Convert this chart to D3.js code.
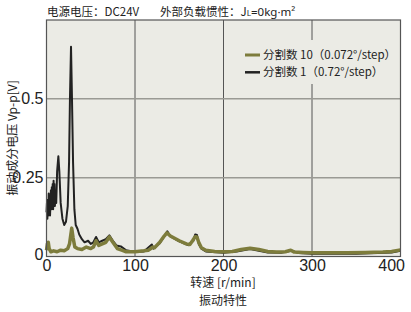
<!DOCTYPE html>
<html lang="zh">
<head>
<meta charset="UTF-8">
<script src="https://cdn.jsdelivr.net/npm/d3@7"></script>
<style>
  body { margin: 0; background: #fff; }
  text { font-family: "Noto Sans CJK SC", sans-serif; }
  .tick text { font-family: "Liberation Sans Narrow", "Liberation Sans", sans-serif; }
</style>
</head>
<body>
<script>
// 转速 [r/min] / 振动成分电压 [V]
var rpmFine = [0,0.5,1,1.5,2,2.5,3,3.5,4,5,5.5,6,6.5,7,7.5,8,8.5,9,9.5,10,11,12,13.4,14.5,16,18,20,22,24,25.5,26.5,27.7,28.8,30,31.5,33,35,37,40,43,47,50,53,56,59,63,67,71,75,79,84,90,100,110,119,121,128,135,136.5,140,150,160,166,168,170,172,175,180,200,215,230,250,265,277,285,300,350,390,400]
var vFine   = [0.14,0.17,0.12,0.18,0.13,0.20,0.14,0.19,0.13,0.21,0.15,0.22,0.16,0.23,0.15,0.24,0.17,0.23,0.16,0.20,0.17,0.27,0.318,0.27,0.17,0.12,0.10,0.11,0.16,0.30,0.50,0.665,0.50,0.30,0.15,0.10,0.088,0.07,0.055,0.045,0.05,0.04,0.045,0.062,0.045,0.05,0.055,0.067,0.05,0.035,0.032,0.02,0.014,0.016,0.038,0.025,0.042,0.072,0.08,0.064,0.048,0.036,0.05,0.07,0.068,0.04,0.025,0.016,0.012,0.016,0.024,0.013,0.012,0.018,0.011,0.009,0.009,0.013,0.018]

var rpmDiv10 = [0,1,2,3,5,8,12,16,20,24,26,28.5,30,32,35,40,45,50,53,56,59,63,67,71,75,80,85,90,100,110,115,118,120,122,128,133,136,140,150,158,162,165,168,170,172,175,180,190,200,210,220,230,240,250,260,270,276,280,290,300,320,340,360,380,390,400]
var vDiv10   = [0.02,0.04,0.045,0.025,0.015,0.018,0.015,0.02,0.018,0.025,0.04,0.09,0.06,0.03,0.025,0.022,0.03,0.025,0.03,0.05,0.035,0.04,0.045,0.062,0.045,0.025,0.02,0.015,0.015,0.018,0.02,0.025,0.03,0.028,0.045,0.065,0.075,0.065,0.05,0.04,0.038,0.05,0.063,0.062,0.045,0.028,0.02,0.016,0.015,0.016,0.022,0.026,0.022,0.016,0.014,0.015,0.02,0.014,0.013,0.012,0.012,0.012,0.013,0.014,0.016,0.021]

var xTicks = [0,100,200,300,400]
var yTicks = [0,0.25,0.5]
var legendLabels = ['分割数 10（0.072°/step）', '分割数 1（0.72°/step）']
var colors = ['#7d7c3c', '#222222']

var width = 411, height = 312
var m = {left: 46.5, right: 400.5, top: 20, bottom: 256.5}

var svg = d3.select('body').append('svg').attr('width', width).attr('height', height)

var x = d3.scaleLinear().domain([0, 400]).range([m.left, m.right])
var y = d3.scaleLinear().domain([0, 0.75]).range([m.bottom, m.top])

svg.append('rect')
  .attr('x', m.left).attr('y', m.top)
  .attr('width', m.right - m.left).attr('height', m.bottom - m.top)
  .attr('fill', '#ebebe5')

// grid
svg.selectAll('.vgrid').data([100, 200, 300]).enter().append('line')
  .attr('x1', d => x(d)).attr('x2', d => x(d))
  .attr('y1', m.top).attr('y2', m.bottom)
  .attr('stroke', '#555').attr('stroke-width', 1)
svg.selectAll('.hgrid').data([0.25, 0.5]).enter().append('line')
  .attr('x1', m.left).attr('x2', m.right)
  .attr('y1', d => y(d)).attr('y2', d => y(d))
  .attr('stroke', '#9a9a94').attr('stroke-width', 1.5)

// legend box covers the grid
svg.append('rect').attr('x', 240).attr('y', 40).attr('width', 159).attr('height', 44).attr('fill', '#ebebe5')

var line = d3.line().x(d => x(d[0])).y(d => y(d[1]))

svg.append('path').datum(d3.zip(rpmFine, vFine))
  .attr('d', line).attr('fill', 'none')
  .attr('stroke', colors[1]).attr('stroke-width', 2).attr('stroke-linejoin', 'round')
svg.append('path').datum(d3.zip(rpmDiv10, vDiv10))
  .attr('d', line).attr('fill', 'none')
  .attr('stroke', colors[0]).attr('stroke-width', 3.5).attr('stroke-linejoin', 'round')

svg.append('rect')
  .attr('x', m.left).attr('y', m.top)
  .attr('width', m.right - m.left).attr('height', m.bottom - m.top)
  .attr('fill', 'none').attr('stroke', '#555').attr('stroke-width', 1.2)

// axes
var xAxis = svg.append('g').attr('transform', 'translate(0,' + m.bottom + ')')
  .call(d3.axisBottom(x).tickValues(xTicks).tickSize(0).tickPadding(3.5).tickFormat(d3.format('d')))
xAxis.select('.domain').remove()
xAxis.selectAll('text').attr('font-size', 16).attr('fill', '#222')
xAxis.selectAll('.tick').filter(d => d === 400).select('text').attr('text-anchor', 'end').attr('x', 4)

var yAxis = svg.append('g').attr('transform', 'translate(' + m.left + ',0)')
  .call(d3.axisLeft(y).tickValues(yTicks).tickSize(0).tickPadding(3).tickFormat(d => d === 0 ? '0' : String(d)))
yAxis.select('.domain').remove()
yAxis.selectAll('text').attr('font-size', 16).attr('fill', '#222')
yAxis.selectAll('.tick').filter(d => d === 0).select('text').attr('dy', '0.18em')

// title
var title = svg.append('text').attr('x', 47).attr('y', 16).attr('font-size', 11.5).attr('fill', '#222')
title.append('tspan').text('电源电压：DC24V')
var t2 = svg.append('text').attr('x', 160).attr('y', 16).attr('font-size', 11.5).attr('fill', '#222')
t2.append('tspan').text('外部负载惯性：J')
t2.append('tspan').attr('font-size', 8).text('L')
t2.append('tspan').attr('font-family', '"Noto Sans", sans-serif').text('=0kg·m²')

// legend
legendLabels.forEach(function(lbl, i) {
  var ly = 55 + i * 17.3
  svg.append('line').attr('x1', 245).attr('x2', 260).attr('y1', ly).attr('y2', ly)
    .attr('stroke', colors[i]).attr('stroke-width', i === 0 ? 3 : 2.5)
  svg.append('text').attr('x', 263).attr('y', ly + 4).attr('font-size', 11.5).attr('fill', '#222').text(lbl)
})

// axis titles
svg.append('text').attr('x', 223).attr('y', 287).attr('text-anchor', 'middle')
  .attr('font-size', 12).attr('fill', '#222').text('转速 [r/min]')
svg.append('text').attr('x', 223).attr('y', 305).attr('text-anchor', 'middle')
  .attr('font-size', 12).attr('fill', '#222').text('振动特性')
svg.append('text').attr('transform', 'translate(17,138) rotate(-90)').attr('text-anchor', 'middle')
  .attr('font-size', 12).attr('fill', '#222').text('振动成分电压 Vp-p[V]')
</script>
</body>
</html>
